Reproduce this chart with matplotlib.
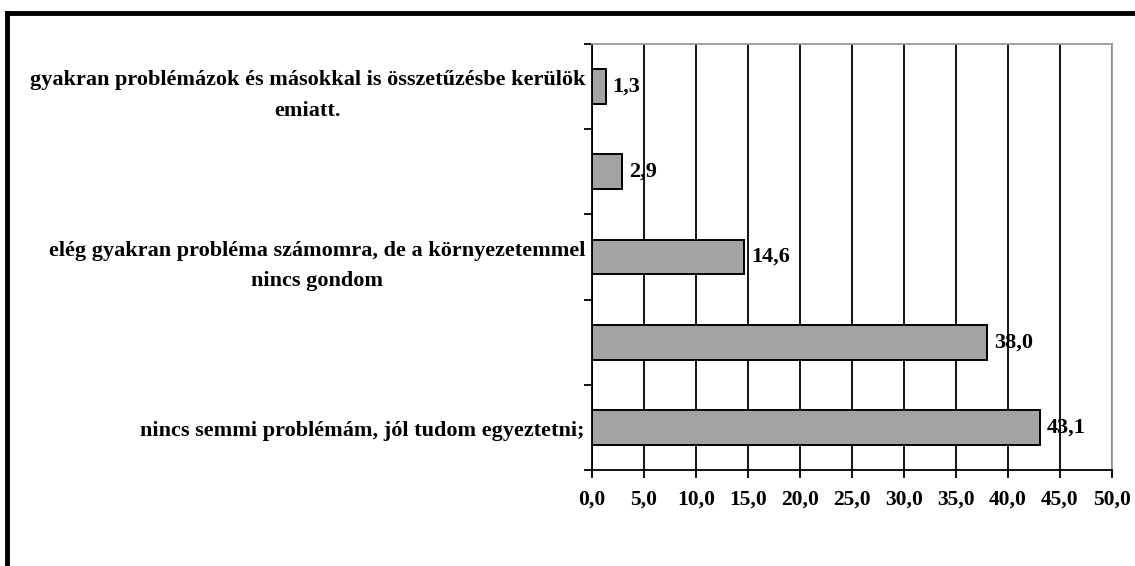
import matplotlib.pyplot as plt
from matplotlib.lines import Line2D
from matplotlib.transforms import offset_copy
import numpy as np

# categories from top to bottom (the 2nd and 4th labels are not shown in the original)
categories = [
    'gyakran problémázok és másokkal is összetűzésbe kerülök\nemiatt.',
    '',
    'elég gyakran probléma számomra, de a környezetemmel\nnincs gondom',
    '',
    'nincs semmi problémám, jól tudom egyeztetni;',
]
values = [1.3, 2.9, 14.6, 38.0, 43.1]
xticks = np.arange(0, 50.1, 5)

plt.rcParams['font.family'] = ['Liberation Serif', 'DejaVu Serif']
plt.rcParams['font.weight'] = 'bold'
fs = 16

fig = plt.figure(figsize=(11.35, 5.66), dpi=100)
ax = fig.add_axes([592 / 1135, 1 - 470 / 566, (1112 - 592) / 1135, (470 - 44) / 566])

n = len(values)
ypos = np.arange(n)[::-1]
bars = ax.barh(ypos, values, height=0.41, color='#a3a3a3', edgecolor='black',
               linewidth=1.4, zorder=3)

ax.set_xlim(0, 50)
ax.set_ylim(-0.5, n - 0.5)
ax.set_xticks(xticks)
ax.set_xticklabels([f'{t:.1f}'.replace('.', ',') for t in xticks], fontsize=fs - 0.5, fontweight='bold')
ax.xaxis.grid(True, color='black', linewidth=1.3, zorder=0)

# category labels drawn as text next to the axis
ax.set_yticks([])
for y, lab in zip(ypos, categories):
    dy = -9 if '\n' in lab else -4
    tr = offset_copy(ax.get_yaxis_transform(), fig=fig, x=-7, y=dy, units='dots')
    ax.text(0, y, lab, transform=tr, ha='right', va='center', multialignment='center',
            fontsize=fs, fontweight='bold', linespacing=1.72)

ax.set_yticks(np.arange(-0.5, n, 1), minor=True)
ax.tick_params(axis='y', which='minor', length=6, width=1.3, direction='out')
ax.tick_params(axis='x', length=6, width=1.3, direction='out', pad=8)

for side in ['left', 'bottom']:
    ax.spines[side].set_color('black')
    ax.spines[side].set_linewidth(1.3)
for side in ['top', 'right']:
    ax.spines[side].set_color('#999999')
    ax.spines[side].set_linewidth(1.3)

for rect, v in zip(bars, values):
    ax.annotate(f'{v:.1f}'.replace('.', ','), xy=(rect.get_width(), rect.get_y() + rect.get_height() / 2),
                xytext=(5, 0), textcoords='offset points', ha='left', va='center',
                fontsize=fs, fontweight='bold', zorder=4)

# outer frame (only top and left edges visible)
fig.add_artist(Line2D([7 / 1135, 1], [1 - 13 / 566, 1 - 13 / 566], color='black', linewidth=3.5,
                      transform=fig.transFigure))
fig.add_artist(Line2D([7 / 1135, 7 / 1135], [0, 1 - 13 / 566], color='black', linewidth=3.5,
                      transform=fig.transFigure))

fig.savefig('out.png', dpi=100)
